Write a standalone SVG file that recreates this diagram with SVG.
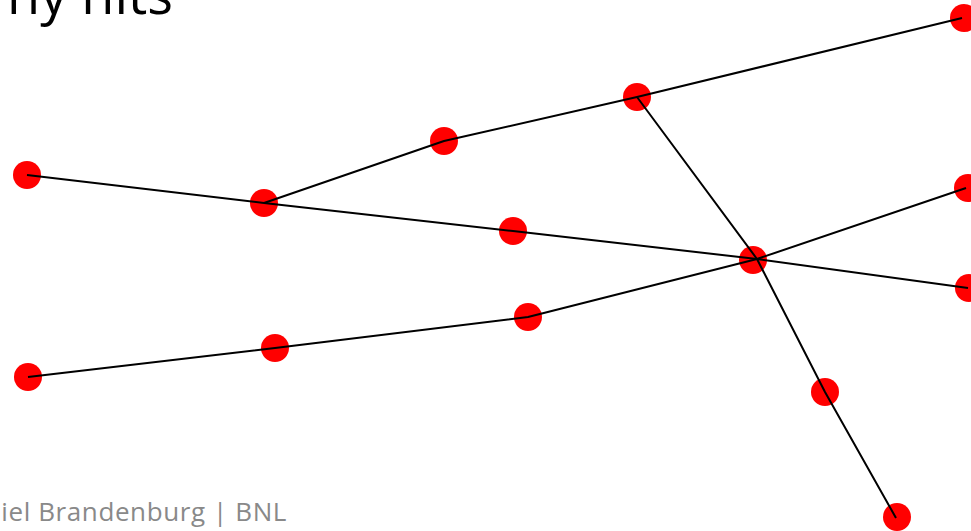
<svg xmlns="http://www.w3.org/2000/svg" width="971" height="531" viewBox="0 0 971 531">
  <style>
    .hit { fill: #ff0000; }
    .trk { fill: none; stroke: #000; stroke-width: 2; stroke-linejoin: round; }
    .title { font-family: "Open Sans", "Liberation Sans", sans-serif; font-size: 54px; fill: #000; }
    .foot { font-family: "Open Sans", "Liberation Sans", sans-serif; font-size: 26px; letter-spacing: 0.6px; fill: #898989; }
  </style>
  <rect width="971" height="531" fill="#fff"/>
  <text class="title" x="173" y="14" text-anchor="end">ny hits</text>
  <text class="foot" x="287" y="521" text-anchor="end">iel Brandenburg | BNL</text>

  <!-- hits -->
  <g id="hit-a"><circle class="hit" cx="27" cy="175" r="14"/></g>
  <g id="hit-b"><circle class="hit" cx="264" cy="203" r="14"/></g>
  <g id="hit-c"><circle class="hit" cx="444" cy="141" r="14"/></g>
  <g id="hit-d"><circle class="hit" cx="637" cy="97" r="14"/></g>
  <g id="hit-e"><circle class="hit" cx="964" cy="18" r="14"/></g>
  <g id="hit-f"><circle class="hit" cx="513" cy="231" r="14"/></g>
  <g id="hit-g"><circle class="hit" cx="753" cy="260" r="14"/></g>
  <g id="hit-h"><circle class="hit" cx="969" cy="288" r="14"/></g>
  <g id="hit-i"><circle class="hit" cx="968" cy="188" r="14"/></g>
  <g id="hit-j"><circle class="hit" cx="28" cy="377" r="14"/></g>
  <g id="hit-k"><circle class="hit" cx="275" cy="348" r="14"/></g>
  <g id="hit-l"><circle class="hit" cx="528" cy="317" r="14"/></g>
  <g id="hit-m"><circle class="hit" cx="825" cy="392" r="14"/></g>
  <g id="hit-n"><circle class="hit" cx="897" cy="517" r="14"/></g>

  <!-- track segments -->
  <g id="tracks">
    <polyline class="trk" points="27,175 264,203 513,231 757,259 968,288"/>
    <polyline class="trk" points="264,203 444,141 637,97 962,18"/>
    <polyline class="trk" points="637,97 757,259 825,392 896,518"/>
    <polyline class="trk" points="28,377 275,348 528,317 757,259 966,188"/>
  </g>
</svg>
